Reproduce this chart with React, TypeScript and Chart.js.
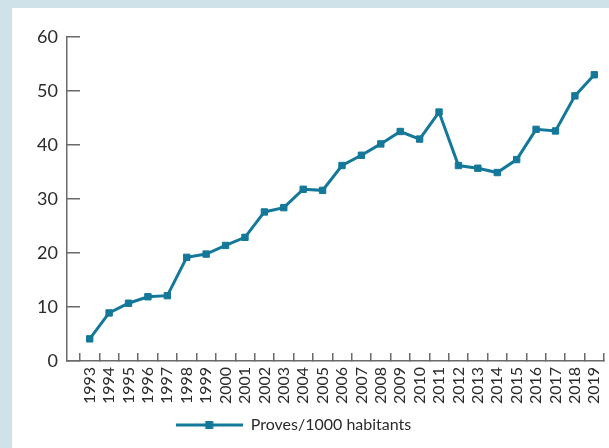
import React, { useEffect, useRef } from "react";
import { Chart, registerables } from "chart.js";

Chart.register(...registerables);

const years: number[] = [
  1993, 1994, 1995, 1996, 1997, 1998, 1999, 2000, 2001, 2002, 2003, 2004, 2005, 2006,
  2007, 2008, 2009, 2010, 2011, 2012, 2013, 2014, 2015, 2016, 2017, 2018, 2019,
];
const values: number[] = [
  4.1, 8.9, 10.7, 11.9, 12.1, 19.2, 19.8, 21.4, 22.9, 27.6, 28.4, 31.8, 31.6, 36.2,
  38.1, 40.2, 42.5, 41.1, 46.1, 36.2, 35.7, 34.9, 37.3, 42.9, 42.6, 49.1, 53.0,
];
const seriesLabel = "Proves/1000 habitants";
const yTicks: number[] = [0, 10, 20, 30, 40, 50, 60];

const LINE = "#137899";
const AXIS = "#6a6a6a";
const TEXT = "#2b2b2b";
const FONT = "Lato, 'Open Sans', sans-serif";

function makeLegendSymbol(): HTMLCanvasElement {
  const c = document.createElement("canvas");
  c.width = 67;
  c.height = 10;
  const ctx = c.getContext("2d")!;
  ctx.strokeStyle = LINE;
  ctx.lineWidth = 3;
  ctx.beginPath();
  ctx.moveTo(0, 5);
  ctx.lineTo(67, 5);
  ctx.stroke();
  ctx.fillStyle = LINE;
  ctx.fillRect(33.5 - 4, 1, 8, 8);
  return c;
}

function zeroPadding(scale: any) {
  scale.paddingTop = 0;
  scale.paddingBottom = 0;
  scale.paddingLeft = 0;
  scale.paddingRight = 0;
}

export default function App() {
  const ref = useRef<HTMLCanvasElement | null>(null);

  useEffect(() => {
    if (!ref.current) return;
    const symbol = makeLegendSymbol();
    const shiftLegend = {
      id: "shiftLegend",
      afterLayout(chart: any) {
        const lg = chart.legend;
        if (lg) {
          lg.left -= 14.5;
          lg.right -= 14.5;
        }
      },
    };
    const chart: any = new Chart(ref.current, {
      type: "line",
      data: {
        datasets: [
          {
            label: seriesLabel,
            data: years.map((y, i) => ({ x: y, y: values[i] })),
            borderColor: LINE,
            backgroundColor: LINE,
            borderWidth: 3,
            pointStyle: "rect",
            pointRadius: 4.5,
            pointBorderWidth: 1,
            pointBackgroundColor: LINE,
            pointBorderColor: LINE,
            tension: 0,
          },
        ],
      },
      options: {
        animation: false,
        responsive: false,
        layout: { autoPadding: false, padding: { top: 29, right: 5, left: 0, bottom: 5 } },
        plugins: {
          tooltip: { enabled: false },
          legend: {
            position: "bottom",
            labels: {
              usePointStyle: true,
              pointStyle: symbol as any,
              pointStyleWidth: 67,
              padding: 10,
              color: TEXT,
              font: { family: FONT, size: 16 },
            },
          },
        },
        scales: {
          x: {
            type: "linear",
            min: 1991.83,
            max: 2019.5,
            afterBuildTicks: (scale: any) => {
              scale.ticks = years.map((v) => ({ value: v }));
            },
            afterFit: (scale: any) => {
              scale.height = 46;
              zeroPadding(scale);
            },
            grid: {
              offset: true,
              drawOnChartArea: false,
              drawTicks: true,
              tickLength: -8,
              color: AXIS,
              lineWidth: 1.5,
            },
            border: { display: true, color: AXIS, width: 1.5 },
            ticks: {
              autoSkip: false,
              minRotation: 90,
              maxRotation: 90,
              padding: 14,
              color: TEXT,
              font: { family: FONT, size: 16 },
              callback: (v: any) => String(v),
            },
          },
          y: {
            min: 0,
            max: 60,
            afterBuildTicks: (scale: any) => {
              scale.ticks = yTicks.map((v) => ({ value: v }));
            },
            afterFit: (scale: any) => {
              scale.width = 55;
              zeroPadding(scale);
            },
            grid: {
              drawOnChartArea: false,
              drawTicks: true,
              tickLength: -13,
              color: AXIS,
              lineWidth: 1.5,
            },
            border: { display: true, color: AXIS, width: 1.5 },
            ticks: {
              padding: 22,
              color: TEXT,
              font: { family: FONT, size: 18 },
            },
          },
        },
      },
      plugins: [shiftLegend],
    });
    return () => chart.destroy();
  }, []);

  return (
    <div
      style={{
        position: "absolute",
        left: 0,
        top: 0,
        width: 609,
        height: 448,
        background: "#cfe2ea",
      }}
    >
      <div
        style={{
          position: "absolute",
          left: 12,
          top: 8,
          width: 597,
          height: 440,
          background: "#ffffff",
        }}
      >
        <canvas ref={ref} width={597} height={440} style={{ display: "block" }} />
      </div>
    </div>
  );
}
